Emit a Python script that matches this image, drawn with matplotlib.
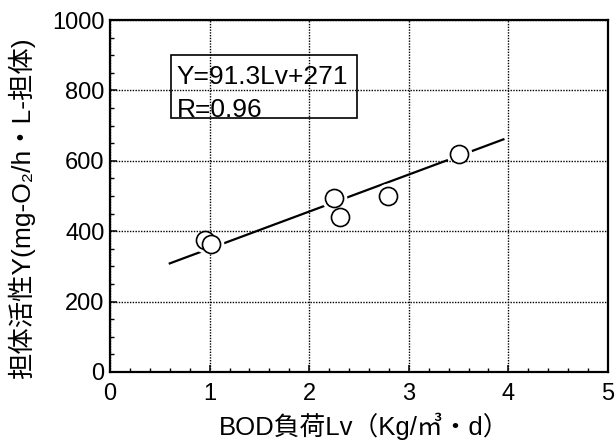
import matplotlib
matplotlib.use('Agg')
import matplotlib.pyplot as plt
from matplotlib.patches import Rectangle
from matplotlib.ticker import MultipleLocator
import numpy as np

plt.rcParams['font.family'] = ['Liberation Sans', 'Noto Sans CJK JP', 'DejaVu Sans']

# measured points
bod_load = [0.95, 1.01, 2.25, 2.31, 2.79, 3.50]
activity = [375, 363, 495, 441, 501, 618]

# regression line as printed in the figure
fit_label = 'Y=91.3Lv+271'
r_label = 'R=0.96'
# line as it is drawn on the chart
line_slope = 105.2
line_intercept = 245.4
line_range = [0.6, 3.95]

x_ticks = [0, 1, 2, 3, 4, 5]
y_ticks = [0, 200, 400, 600, 800, 1000]

fig = plt.figure(figsize=(6.16, 4.41), dpi=100, facecolor='w')
ax = fig.add_axes([0.1786, 0.1565, 0.8084, 0.7981])
ax.set_axisbelow(False)

ax.set_xlim(0, 5)
ax.set_ylim(0, 1000)
ax.set_xticks(x_ticks)
ax.set_yticks(y_ticks)
ax.xaxis.set_minor_locator(MultipleLocator(0.2))
ax.yaxis.set_minor_locator(MultipleLocator(50))
ax.tick_params(which='major', direction='in', length=5, width=1.1, labelsize=17, colors='k')
ax.tick_params(axis='x', which='major', pad=8)
ax.tick_params(axis='y', which='major', pad=4)
ax.tick_params(which='minor', direction='in', length=3, width=1.0)
for sp in ax.spines.values():
    sp.set_linewidth(1.6)
ax.grid(True, which='major', color='k', linestyle=(0, (1, 1)), linewidth=1.0)

lx = np.array(line_range)
ax.plot(lx, line_slope * lx + line_intercept, color='k', linewidth=1.6, zorder=1.5)
# white halo so the line breaks at each circle
ax.plot(bod_load, activity, 'o', markersize=18.5, markerfacecolor='w',
        markeredgecolor='none', zorder=2)
ax.plot(bod_load, activity, 'o', markersize=13, markerfacecolor='w',
        markeredgecolor='k', markeredgewidth=1.2, zorder=3)

ax.add_patch(Rectangle((0.61, 722), 1.87, 178, fill=False, edgecolor='k',
                       linewidth=1.2, zorder=3))
ax.text(0.67, 818, fit_label, fontsize=19, va='baseline', ha='left', zorder=4)
ax.text(0.67, 724, r_label, fontsize=19, va='baseline', ha='left', zorder=4)

ax.set_xlabel('BOD負荷Lv（Kg/㎥・d）', fontsize=18.5, labelpad=4)
ax.xaxis.set_label_coords(0.51, -0.115)
ax.set_ylabel('担体活性Y(mg-O₂/h・L-担体)', fontsize=19)
ax.yaxis.set_label_coords(-0.15, 0.465)

fig.savefig('out.png', dpi=100)
